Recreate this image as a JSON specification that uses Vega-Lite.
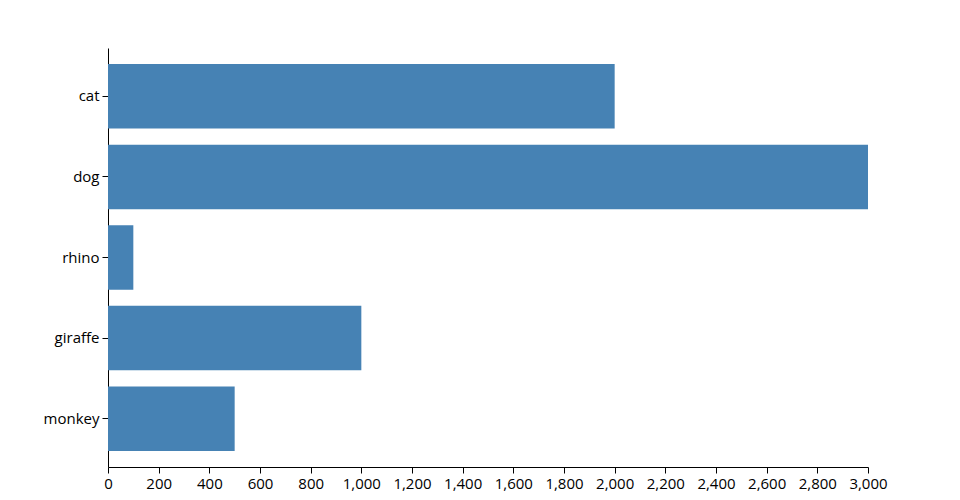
{
  "$schema": "https://vega.github.io/schema/vega-lite/v6.json",
  "autosize": "none",
  "padding": {"left": 108, "top": 48, "right": 92, "bottom": 33},
  "width": 760,
  "height": 419,
  "background": "white",
  "data": {"values": [
    {"animal": "cat", "value": 2000},
    {"animal": "dog", "value": 3000},
    {"animal": "rhino", "value": 100},
    {"animal": "giraffe", "value": 1000},
    {"animal": "monkey", "value": 500}
  ]},
  "mark": {"type": "bar", "color": "steelblue"},
  "encoding": {
    "y": {"field": "animal", "type": "nominal", "sort": null,
      "scale": {"paddingInner": 0.2, "paddingOuter": 0.2},
      "axis": {"title": null, "domainColor": "black", "tickColor": "black", "tickSize": 6, "labelPadding": 3,
        "labelFont": "Open Sans", "labelFontSize": 15, "labelColor": "black"}},
    "x": {"field": "value", "type": "quantitative",
      "scale": {"domain": [0, 3000], "nice": false},
      "axis": {"title": null, "grid": false, "values": [0,200,400,600,800,1000,1200,1400,1600,1800,2000,2200,2400,2600,2800,3000],
        "format": ",.0f", "domainColor": "black", "tickColor": "black", "tickSize": 6, "labelPadding": 3,
        "labelFont": "Open Sans", "labelFontSize": 15, "labelColor": "black", "labelFlush": false, "labelOverlap": false}}
  },
  "config": {"view": {"stroke": null}}
}
